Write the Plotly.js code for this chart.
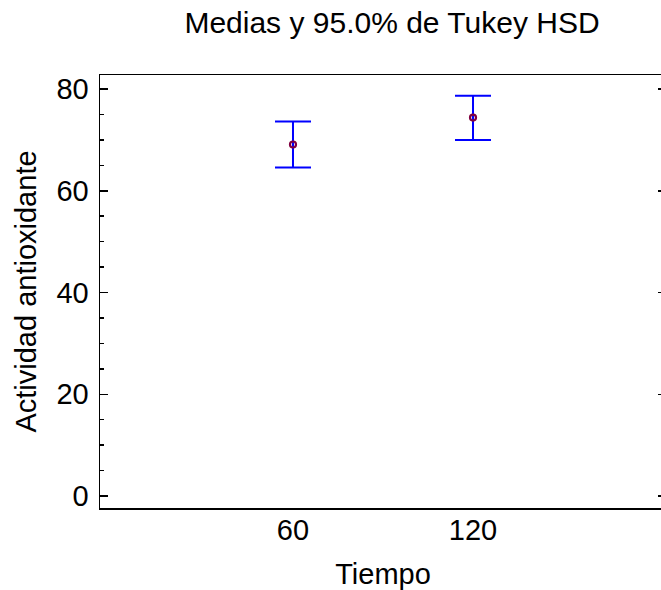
<!DOCTYPE html>
<html>
<head>
<meta charset="utf-8">
<script src="https://cdn.plot.ly/plotly-3.0.1.min.js"></script>
<style>
  html, body { margin: 0; padding: 0; overflow: hidden; background: #fff; }
  #chart { width: 668px; height: 590px; }
</style>
</head>
<body>
<div id="chart"></div>
<script>
// Group labels (Tiempo) and Tukey HSD 95% intervals for the mean
const tiempo = ['60', '120'];
const medias = [69.1, 74.4];
const limiteInferior = [64.6, 70.0];
const limiteSuperior = [73.6, 78.7];

const errSup = limiteSuperior.map((v, i) => v - medias[i]);
const errInf = medias.map((m, i) => m - limiteInferior[i]);

const FONT = 'Liberation Sans, Arial, sans-serif';

const trace = {
  type: 'scatter',
  mode: 'markers',
  x: tiempo,
  y: medias,
  marker: {
    symbol: 'circle-open',
    size: 6,
    color: '#800040',
    line: { width: 2.2, color: '#800040' }
  },
  error_y: {
    type: 'data',
    symmetric: false,
    array: errSup,
    arrayminus: errInf,
    color: '#0000ff',
    thickness: 2,
    width: 18
  },
  hoverinfo: 'x+y',
  showlegend: false
};

const layout = {
  width: 668,
  height: 590,
  margin: { l: 100, r: 2, t: 75, b: 82 },
  paper_bgcolor: '#ffffff',
  plot_bgcolor: '#ffffff',
  font: { family: FONT, size: 29, color: '#000' },
  title: {
    text: 'Medias y 95.0% de Tukey HSD',
    font: { family: FONT, size: 30, color: '#000' },
    xref: 'container', x: 392 / 668, xanchor: 'center',
    yref: 'container', y: 1 - 22 / 590, yanchor: 'middle'
  },
  xaxis: {
    type: 'category',
    range: [-1.072, 2.072],
    showgrid: false,
    zeroline: false,
    showline: true,
    linecolor: '#000',
    linewidth: 1.5,
    mirror: true,
    ticks: '',
    ticklabelstandoff: -4,
    tickfont: { family: FONT, size: 29 },
    title: { text: 'Tiempo', font: { family: FONT, size: 29 }, standoff: 20 }
  },
  yaxis: {
    range: [-2.36, 82.76],
    tickvals: [0, 20, 40, 60, 80],
    showgrid: false,
    zeroline: false,
    showline: true,
    linecolor: '#000',
    linewidth: 1.5,
    mirror: 'ticks',
    ticks: 'inside',
    ticklen: 8,
    tickwidth: 1.5,
    tickcolor: '#000',
    minor: { dtick: 5, tick0: 0, ticks: 'inside', ticklen: 4, tickwidth: 1.5, tickcolor: '#000', showgrid: false },
    ticklabelstandoff: 4,
    tickfont: { family: FONT, size: 29 },
    title: { text: 'Actividad antioxidante', font: { family: FONT, size: 29 }, standoff: 11 }
  }
};

Plotly.newPlot('chart', [trace], layout, { displayModeBar: false, staticPlot: true });
</script>
</body>
</html>
